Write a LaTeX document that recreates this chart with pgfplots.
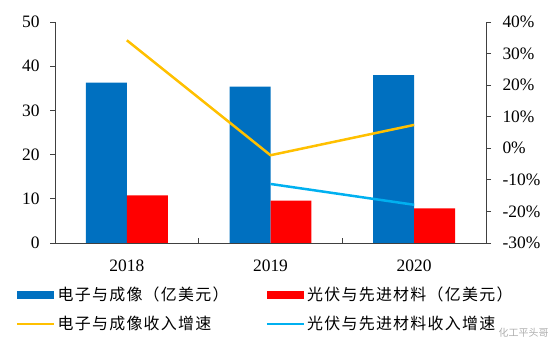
\documentclass[border=0pt]{standalone}
\usepackage{pgfplots}
\pgfplotsset{compat=1.18}
\usepackage{fontspec}
\setmainfont{Liberation Serif}
\newfontfamily\cjk[LetterSpace=8]{Noto Sans CJK SC}
\newfontfamily\cjkplain{Noto Sans CJK SC}
\definecolor{cBlue}{HTML}{0070C0}
\definecolor{cRed}{HTML}{FF0000}
\definecolor{cYel}{HTML}{FFC000}
\definecolor{cCyan}{HTML}{00B0F0}
\definecolor{axc}{HTML}{404040}
\pgfplotsset{
  legbar/.style={legend image code/.code={\fill[##1, draw=none] (0bp,-4bp) rectangle (37bp,4bp);}},
  legline/.style={legend image code/.code={\draw[##1] (0bp,0bp) -- (37bp,0bp);}},
  common/.style={
    scale only axis, width=431bp, height=221bp,
    at={(55bp,100bp)}, anchor=south west,
    xmin=-0.5, xmax=2.5,
    tick label style={font=\fontsize{17.5}{18}\selectfont},
    /pgf/number format/assume math mode=true,
    axis line style={axc, line width=0.8pt, -},
    tick style={axc, line width=0.8pt},
    major tick length=5bp,
  }
}
\begin{document}
\begin{tikzpicture}
\path[use as bounding box] (0,0) rectangle (554bp,343bp);
\begin{axis}[common,
  ybar=0pt, bar width=0.285,
  ymin=0, ymax=50, ytick={0,10,...,50},
  axis x line*=bottom, axis y line*=left,
  xtick={0.5,1.5}, xticklabels={},
  xtick align=inside, ytick align=outside,
  yticklabel style={xshift=-7bp},
]
\addplot[fill=cBlue, draw=none] coordinates {(0,36.3) (1,35.4) (2,38.0)};
\addplot[fill=cRed, draw=none] coordinates {(0,10.8) (1,9.6) (2,7.85)};
\end{axis}
\begin{axis}[common,
  ymin=-30, ymax=40, ytick={-30,-20,...,40},
  yticklabels={-30\%,-20\%,-10\%,0\%,10\%,20\%,30\%,40\%},
  axis y line*=right, axis x line*=bottom,
  xtick={0,1,2}, xticklabels={2018,2019,2020},
  x tick style={draw=none},
  ytick align=outside,
  yticklabel style={xshift=8bp},
  xticklabel style={yshift=-13bp},
  legend columns=2,
  legend cell align=left,
  legend style={at={(-0.0905,-0.19)}, anchor=north west, draw=none, fill=none,
    font=\cjk\fontsize{16}{16}\selectfont, row sep=10bp, inner sep=0pt},
]
\addlegendimage{legbar, fill=cBlue}
\addlegendentry{\makebox[206bp][l]{电子与成像（亿美元）}}
\addlegendimage{legbar, fill=cRed}
\addlegendentry{光伏与先进材料（亿美元）}
\addplot[cYel, line width=2.5bp, legline] coordinates {(0,34.2) (1,-2.2) (2,7.4)};
\addlegendentry{\makebox[206bp][l]{电子与成像收入增速}}
\addplot[cCyan, line width=2.5bp, legline] coordinates {(1,-11.3) (2,-17.9)};
\addlegendentry{光伏与先进材料收入增速}
\end{axis}
\node[anchor=east, text=black!45, font=\cjkplain\fontsize{10}{10}\selectfont, opacity=0.7] at (552bp,10bp) {化工平头哥};
\end{tikzpicture}
\end{document}
